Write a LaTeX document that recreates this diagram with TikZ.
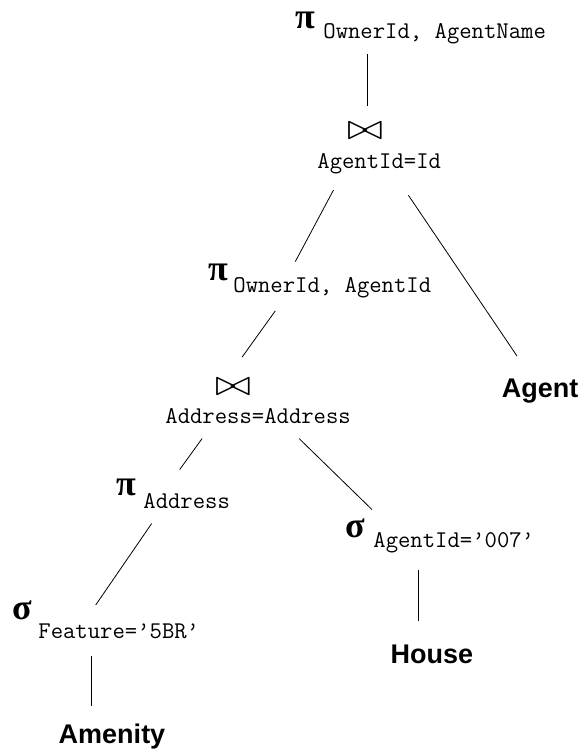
\documentclass[tikz,border=0pt]{standalone}
\usepackage{fontspec}
\setmainfont{Liberation Serif}
\setsansfont{Liberation Sans}
\usetikzlibrary{positioning}
\newcommand{\joinop}{\scalebox{4.3}[3.6]{$\bowtie$}}

\begin{document}
\begin{tikzpicture}[x=1pt,y=-1pt,thick,
  op/.style={inner sep=0pt, font=\fontsize{36}{36}\selectfont\bfseries},
  joinnode/.style={inner sep=0pt},
  cond/.style={inner sep=0pt, anchor=base west, font=\fontsize{24}{24}\selectfont\ttfamily},
  rel/.style={inner sep=0pt, anchor=base, font=\fontsize{27}{27}\selectfont\sffamily\bfseries}]
  \useasboundingbox (0,0) rectangle (580,749);

  % operators and their conditions
  \node (pi1)  [op]       at (305,20)  {π};
  \node (pi1s) [cond]     at (323,39)  {OwnerId, AgentName};
  \node (j1)   [joinnode] at (365,131) {\joinop};
  \node (j1s)  [cond]     at (317,168) {AgentId=Id};
  \node (pi2)  [op]       at (218,272) {π};
  \node (pi2s) [cond]     at (233,292) {OwnerId, AgentId};
  \node (j2)   [joinnode] at (233,387) {\joinop};
  \node (j2s)  [cond]     at (165,423) {Address=Address};
  \node (pi3)  [op]       at (126,487) {π};
  \node (pi3s) [cond]     at (143,508) {Address};
  \node (s1)   [op]       at (22,610)  {σ};
  \node (s1s)  [cond]     at (38,638)  {Feature=’5BR’};
  \node (s2)   [op]       at (355,528) {σ};
  \node (s2s)  [cond]     at (373,547) {AgentId=’007’};

  % relations
  \node (agent)   [rel] at (540,397) {Agent};
  \node (house)   [rel] at (432,663) {House};
  \node (amenity) [rel] at (112,743) {Amenity};

  % tree edges
  \draw[shorten <=9pt, shorten >=16pt] ([xshift=2pt]j1.north |- pi1s.south) -- ([xshift=2pt]j1.north);
  \draw[shorten <=57pt] (j1) -- ([xshift=-37pt,yshift=15pt]pi2s.north);
  \draw[shorten <=67pt] (j1) -- ([xshift=-23pt,yshift=22pt]agent.north);
  \draw ([xshift=-57pt,yshift=-13pt]pi2s.south) -- ([xshift=9pt,yshift=21pt]j2.north);
  \draw ([xshift=-56pt,yshift=-15pt]j2s.south) -- ([xshift=-7pt,yshift=23pt]pi3s.north);
  \draw ([xshift=41pt,yshift=-15pt]j2s.south) -- ([xshift=-1pt,yshift=22pt]s2s.north west);
  \draw ([xshift=-35pt,yshift=-15pt]pi3s.south) -- ([xshift=-23pt,yshift=18pt]s1s.north);
  \draw[shorten <=17pt, shorten >=17pt] ([xshift=-21pt]amenity.north |- s1s.south) -- ([xshift=-21pt]amenity.north);
  \draw[shorten <=17pt, shorten >=23pt] ([xshift=-14pt]house.north |- s2s.south) -- ([xshift=-14pt]house.north);
\end{tikzpicture}
\end{document}
